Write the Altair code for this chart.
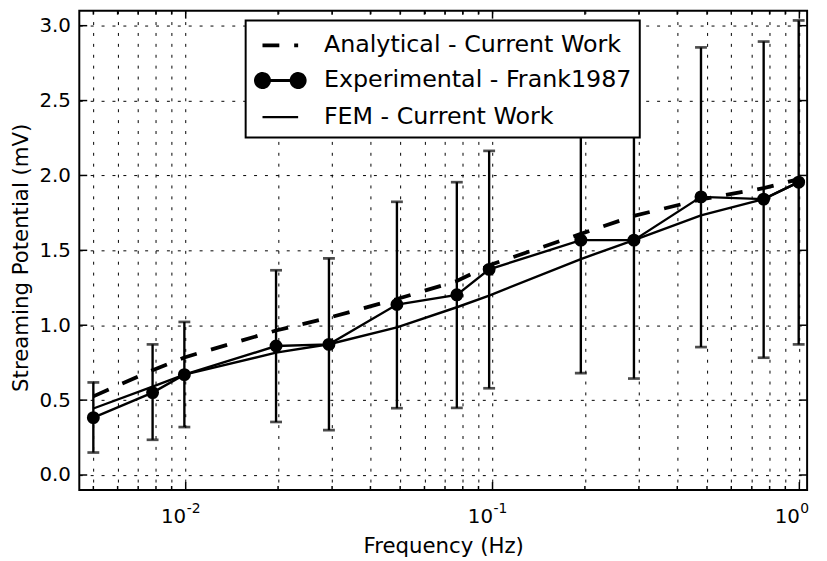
import altair as alt
import pandas as pd

# ---------------- data ----------------
freq = [0.005, 0.0078, 0.0099, 0.0197, 0.0293, 0.0488, 0.0765, 0.0975,
        0.194, 0.289, 0.478, 0.765, 0.995]
analytical = [0.525, 0.70, 0.785, 0.965, 1.05, 1.175, 1.295, 1.40,
              1.61, 1.73, 1.84, 1.915, 1.975]
experimental = [0.383, 0.55, 0.67, 0.861, 0.872, 1.138, 1.203, 1.373,
                1.568, 1.568, 1.857, 1.842, 1.955]
exp_err_lo = [0.15, 0.235, 0.32, 0.354, 0.30, 0.446, 0.448, 0.579,
              0.68, 0.644, 0.854, 0.783, 0.872]
exp_err_hi = [0.618, 0.872, 1.022, 1.367, 1.446, 1.824, 1.955, 2.164,
              2.46, 2.49, 2.855, 2.894, 3.035]
fem = [0.444, 0.59, 0.67, 0.817, 0.873, 0.985, 1.12, 1.198,
       1.442, 1.568, 1.733, 1.842, 1.955]

series_names = ["Analytical - Current Work", "Experimental - Frank1987", "FEM - Current Work"]

x_major = [0.01, 0.1, 1.0]
x_minor = [0.005, 0.006, 0.007, 0.008, 0.009,
           0.02, 0.03, 0.04, 0.05, 0.06, 0.07, 0.08, 0.09,
           0.2, 0.3, 0.4, 0.5, 0.6, 0.7, 0.8, 0.9]
x_exponents = ["-2", "-1", "0"]
y_major = [0.0, 0.5, 1.0, 1.5, 2.0, 2.5, 3.0]

# ---------------- layout ----------------
W, H = 735, 484
FONT = "DejaVu Sans"

df = pd.DataFrame({
    "freq": freq,
    "analytical": analytical,
    "experimental": experimental,
    "lo": exp_err_lo,
    "hi": exp_err_hi,
    "fem": fem,
})

xscale = alt.Scale(type="log", domain=[0.0045, 1.06], nice=False)
yscale = alt.Scale(domain=[-0.1, 3.1], nice=False, zero=False)

x_axis = alt.Axis(
    values=x_minor + x_major,
    labelExpr="abs(log(datum.value)/LN10 - round(log(datum.value)/LN10)) < 1e-6 ? '10' : ''",
    labelAlign="right", labelBaseline="alphabetic", labelPadding=33,
    labelOverlap=False, labelFlush=False,
    title="Frequency (Hz)", titleBaseline="alphabetic", titleY=63,
)
y_axis = alt.Axis(
    values=y_major, format=".1f", labelPadding=9,
    title="Streaming Potential (mV)", titleBaseline="alphabetic",
    titleX=-52, titleY=249,
)


def XE(field):
    return alt.X(field, type="quantitative", scale=xscale, axis=x_axis)


def YE(field):
    return alt.Y(field, type="quantitative", scale=yscale, axis=y_axis)


base = alt.Chart(df)

analytical_line = base.mark_line(color="black", strokeWidth=3.8, strokeDash=[17, 15]).encode(
    x=XE("freq"), y=YE("analytical")
)
fem_line = base.mark_line(color="black", strokeWidth=2.4).encode(x=XE("freq"), y=YE("fem"))
exp_line = base.mark_line(color="black", strokeWidth=2.4).encode(x=XE("freq"), y=YE("experimental"))
err_rule = base.mark_rule(color="black", strokeWidth=2.4).encode(x=XE("freq"), y=YE("lo"), y2="hi:Q")
cap_lo = base.mark_tick(color="black", orient="horizontal", size=12, thickness=2.7).encode(
    x=XE("freq"), y=YE("lo")
)
cap_hi = base.mark_tick(color="black", orient="horizontal", size=12, thickness=2.7).encode(
    x=XE("freq"), y=YE("hi")
)
exp_pts = base.mark_circle(color="black", size=170, opacity=1).encode(x=XE("freq"), y=YE("experimental"))

# legend carrier (invisible points); symbols are custom paths
r = 7 / 15
p_line = "M-1.2,0L1.2,0"
p_exp = (
    "M-1.2,0L1.2,0"
    f"M{-1.2 + r:.3f},0A{r:.3f},{r:.3f},0,1,1,{-1.2 - r:.3f},0A{r:.3f},{r:.3f},0,1,1,{-1.2 + r:.3f},0Z"
    f"M{1.2 + r:.3f},0A{r:.3f},{r:.3f},0,1,1,{1.2 - r:.3f},0A{r:.3f},{r:.3f},0,1,1,{1.2 + r:.3f},0Z"
)
leg_df = pd.DataFrame({"series": series_names, "freq": [freq[0]] * 3, "v": [experimental[0]] * 3})
legend = alt.Legend(
    title=None, orient="none", legendX=168, legendY=10,
    fillColor="white", strokeColor="black", padding=8, cornerRadius=0,
    labelFont=FONT, labelFontSize=24, labelColor="black", labelLimit=500,
    labelBaseline="middle", symbolOffset=10, labelOffset=27, rowPadding=6.5,
    symbolSize=900, symbolOpacity=1,
    zindex=2,
)
leg_scale = alt.Scale(domain=series_names, range=["black", "black", "black"])
legend_pts = alt.Chart(leg_df).mark_point(opacity=0).encode(
    x=XE("freq"), y=YE("v"),
    shape=alt.Shape("series:N", scale=alt.Scale(domain=series_names, range=[p_line, p_exp, p_line]), legend=legend),
    strokeDash=alt.StrokeDash("series:N", scale=alt.Scale(domain=series_names, range=[[17, 15], [1, 0], [1, 0]]), legend=legend),
    strokeWidth=alt.StrokeWidth("series:N", scale=alt.Scale(domain=series_names, range=[3.8, 2.4, 2.4]), legend=legend),
    stroke=alt.Stroke("series:N", scale=leg_scale, legend=legend),
    fill=alt.Fill("series:N", scale=leg_scale, legend=legend),
)

# inward tick marks on all four sides
xt_major = pd.DataFrame({"t": x_major})
xt_minor = pd.DataFrame({"t": x_minor})
yt_major = pd.DataFrame({"t": y_major})
tick_layers = [
    alt.Chart(xt_major).mark_rule(color="black", strokeWidth=1.5).encode(x=XE("t"), y=alt.value(H), y2=alt.value(H - 8)),
    alt.Chart(xt_major).mark_rule(color="black", strokeWidth=1.5).encode(x=XE("t"), y=alt.value(0), y2=alt.value(8)),
    alt.Chart(xt_minor).mark_rule(color="black", strokeWidth=1.5).encode(x=XE("t"), y=alt.value(H), y2=alt.value(H - 4)),
    alt.Chart(xt_minor).mark_rule(color="black", strokeWidth=1.5).encode(x=XE("t"), y=alt.value(0), y2=alt.value(4)),
    alt.Chart(yt_major).mark_rule(color="black", strokeWidth=1.5).encode(y=YE("t"), x=alt.value(0), x2=alt.value(8)),
    alt.Chart(yt_major).mark_rule(color="black", strokeWidth=1.5).encode(y=YE("t"), x=alt.value(W), x2=alt.value(W - 8)),
]

# exponent of the x tick labels (10^n)
exp_df = pd.DataFrame({"t": x_major, "e": x_exponents})
exponents = alt.Chart(exp_df).mark_text(
    align="left", baseline="alphabetic", fontSize=14, font=FONT, color="black", dx=1
).encode(x=XE("t"), y=alt.value(H + 23), text="e:N")

chart = alt.layer(
    analytical_line, exp_line, fem_line, err_rule, cap_lo, cap_hi, exp_pts,
    *tick_layers, exponents, legend_pts,
).properties(
    width=W, height=H,
    autosize=alt.AutoSizeParams(type="none"),
    padding={"left": 72, "top": 0, "right": 12, "bottom": 69},
    background="white",
).configure_view(
    stroke="black", strokeWidth=2
).configure_axis(
    labelFont=FONT, labelFontSize=20, labelColor="black",
    titleFont=FONT, titleFontSize=21.5, titleFontWeight="normal", titleColor="black",
    domain=False, ticks=False, tickSize=0,
    grid=True, gridColor="black", gridDash=[3, 8], gridWidth=1,
).configure_legend(
    strokeWidth=2,
)

chart.save("out.html", embed_options={"renderer": "svg", "actions": False})
